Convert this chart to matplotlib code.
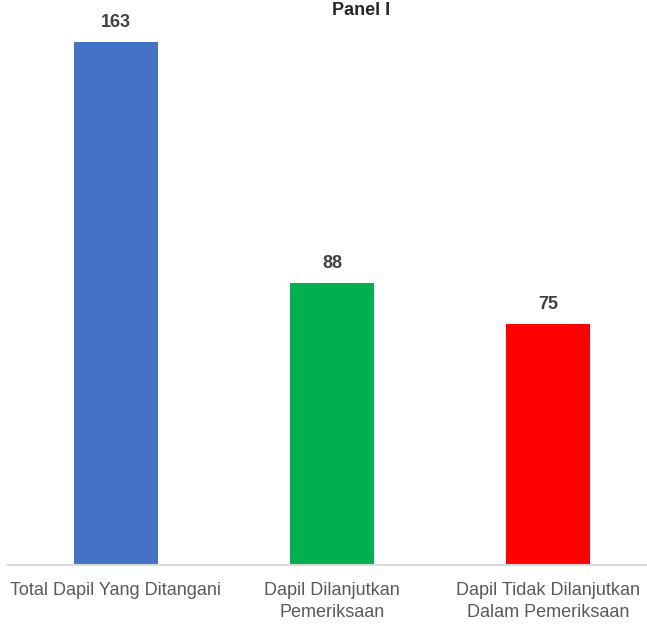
import matplotlib.pyplot as plt

categories = ['Total Dapil Yang Ditangani', 'Dapil Dilanjutkan\nPemeriksaan',
              'Dapil Tidak Dilanjutkan\nDalam Pemeriksaan']
values = [163, 88, 75]
colors = ['#4472c4', '#00b050', '#ff0000']

plt.rcParams['font.family'] = ['Liberation Sans', 'DejaVu Sans']

fig = plt.figure(figsize=(6.47, 6.27), dpi=100)
ax = fig.add_axes([8 / 647, 62 / 627, 639 / 647, 523 / 627])

x = range(len(values))
bars = ax.bar(x, values, width=0.39, color=colors)
for b, v in zip(bars, values):
    ax.annotate(str(v), (b.get_x() + b.get_width() / 2, v), xytext=(0, 8),
                textcoords='offset points', ha='center', va='bottom',
                fontsize=13, fontweight='bold', color='#404040')

ax.set_xlim(-0.5, 639 / 216 - 0.5)
ax.set_ylim(0, 163)
ax.set_xticks(list(x))
ax.set_xticklabels(categories, fontsize=13, color='#595959', linespacing=1.4)
ax.tick_params(axis='x', length=0, pad=12)
ax.set_yticks([])
for s in ['top', 'right', 'left']:
    ax.spines[s].set_visible(False)
ax.spines['bottom'].set_color('#d9d9d9')
ax.spines['bottom'].set_linewidth(1.5)

# title sits at the very top edge, as in the source
fig.text(361 / 647, 1.0 - 2 / 627, 'Panel I', ha='center', va='top',
         fontsize=13, fontweight='bold', color='#262626')

fig.savefig('out.png', dpi=100)
